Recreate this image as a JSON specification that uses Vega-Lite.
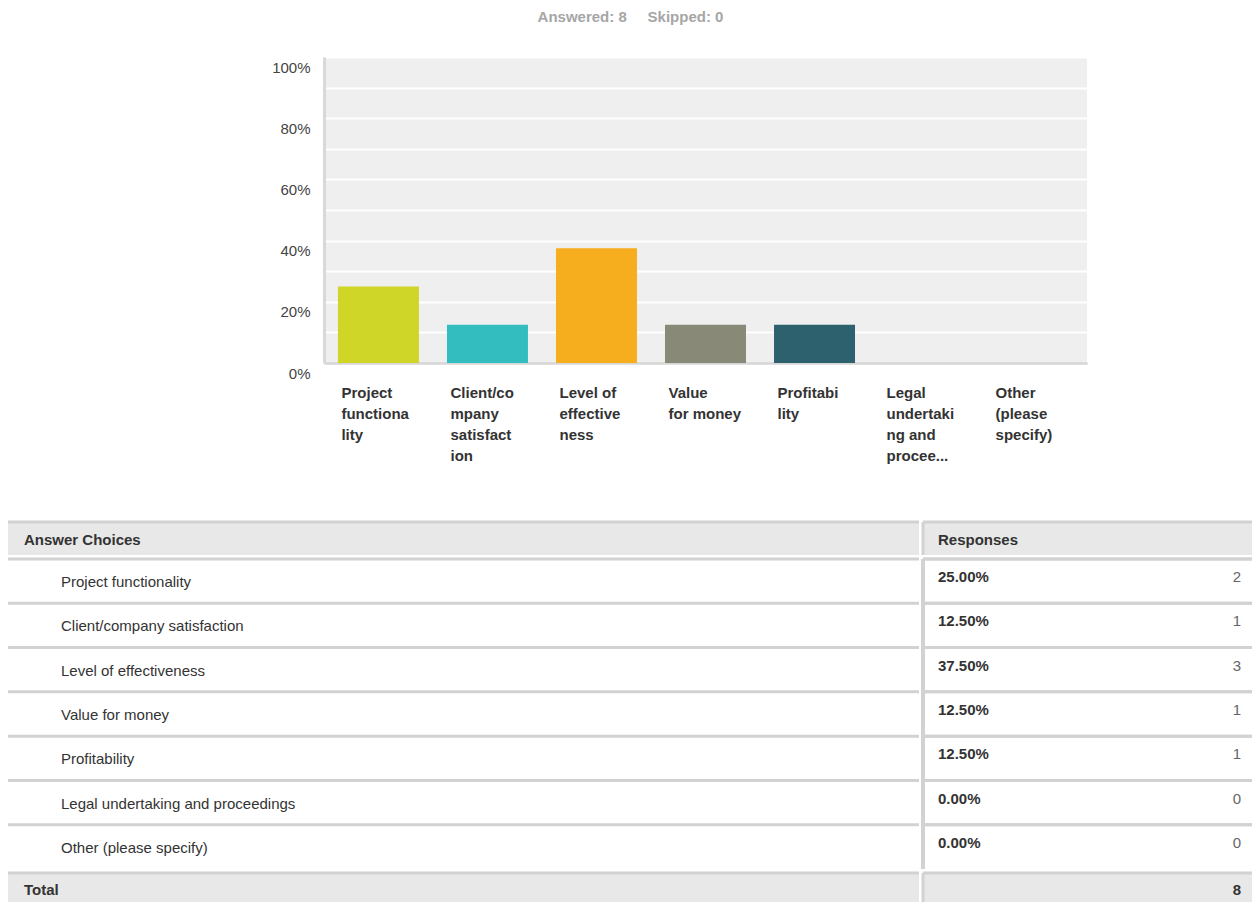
{
  "$schema": "https://vega.github.io/schema/vega-lite/v6.json",
  "padding": {"left": 6, "top": 10, "right": 0, "bottom": 0},
  "background": "white",
  "config": {"font": "Liberation Sans", "view": {"stroke": null}},
  "title": {"text": "Answered: 8\u00a0\u00a0\u00a0\u00a0\u00a0Skipped: 0", "anchor": "middle", "fontSize": 15, "fontWeight": "bold", "color": "#a6a6a6", "offset": 32},
  "datasets": {
    "choices": [
      {"choice": "Project functionality", "axis_label": "Project|functiona|lity", "pct": 0.25, "count": 2},
      {"choice": "Client/company satisfaction", "axis_label": "Client/co|mpany|satisfact|ion", "pct": 0.125, "count": 1},
      {"choice": "Level of effectiveness", "axis_label": "Level of|effective|ness", "pct": 0.375, "count": 3},
      {"choice": "Value for money", "axis_label": "Value|for money", "pct": 0.125, "count": 1},
      {"choice": "Profitability", "axis_label": "Profitabi|lity", "pct": 0.125, "count": 1},
      {"choice": "Legal undertaking and proceedings", "axis_label": "Legal|undertaki|ng and|procee...", "pct": 0, "count": 0},
      {"choice": "Other (please specify)", "axis_label": "Other|(please|specify)", "pct": 0, "count": 0}
    ],
    "header": [{"answers": "Answer Choices", "responses": "Responses"}],
    "total": [{"total_label": "Total", "total_count": 8}]
  },
  "spacing": 57,
  "vconcat": [
    {
      "spacing": 16,
      "hconcat": [
        {
          "width": 247,
          "height": 306,
          "data": {"values": []},
          "mark": {"type": "point"},
          "encoding": {}
        },
        {
          "width": 763,
          "height": 306,
          "view": {"fill": "#efefef", "stroke": null},
          "data": {"name": "choices"},
          "mark": {"type": "bar"},
          "encoding": {
            "x": {
              "field": "axis_label", "type": "nominal", "sort": null,
              "scale": {"paddingInner": 0.257, "paddingOuter": 0.128},
              "axis": {"title": null, "labelExpr": "split(datum.value, '|')", "labelAlign": "left", "labelBaseline": "top", "labelOffset": -37, "labelPadding": 22, "labelLineHeight": 21, "labelFontSize": 15, "labelFontWeight": "bold", "labelColor": "#333333", "labelAngle": 0, "labelLimit": 0, "ticks": false, "tickSize": 0, "domain": true, "domainColor": "#d6d6d6", "domainWidth": 2, "grid": false, "labelOverlap": false}
            },
            "y": {
              "field": "pct", "type": "quantitative",
              "scale": {"domain": [0, 1], "nice": false},
              "axis": {"title": null, "values": [0, 0.1, 0.2, 0.3, 0.4, 0.5, 0.6, 0.7, 0.8, 0.9, 1], "format": ".0%", "labelExpr": "round(datum.value*10) % 2 === 0 ? datum.label : ''", "labelFontSize": 15, "labelColor": "#444444", "labelPadding": 14, "labelOffset": 10, "labelOverlap": false, "ticks": false, "tickSize": 0, "domain": true, "domainColor": "#d9d9d9", "domainWidth": 3, "grid": true, "gridColor": {"condition": {"test": "datum.value === 0", "value": "#d6d6d6"}, "value": "#ffffff"}, "gridWidth": 2}
            },
            "color": {
              "field": "choice", "type": "nominal",
              "scale": {"domain": ["Project functionality", "Client/company satisfaction", "Level of effectiveness", "Value for money", "Profitability", "Legal undertaking and proceedings", "Other (please specify)"], "range": ["#cfd628", "#33bdbf", "#f6ae1e", "#888a77", "#2d616d", "#9c9c9c", "#6a6a6a"]},
              "legend": null
            }
          }
        }
      ]
    },
    {
      "spacing": 0,
      "vconcat": [
        {
          "spacing": 0,
          "hconcat": [
            {
              "width": 911, "height": 33,
              "view": {"fill": "#e8e8e8", "stroke": null},
              "data": {"name": "header"},
              "transform": [{"fold": ["answers"], "as": ["column", "cell"]}],
              "layer": [
                {"mark": {"type": "rule", "color": "#d2d2d2", "strokeWidth": 3},
                 "encoding": {"y": {"field": "column", "type": "nominal", "bandPosition": 0, "axis": null, "scale": {"type": "band", "paddingInner": 0, "paddingOuter": 0}}}},
                {"mark": {"type": "text", "align": "left", "baseline": "middle", "dx": 16, "dy": 1, "fontSize": 15, "fontWeight": "bold", "color": "#333333"},
                 "encoding": {
                   "x": {"field": "column", "type": "nominal", "bandPosition": 0, "axis": null, "scale": {"type": "band", "paddingInner": 0, "paddingOuter": 0}},
                   "y": {"field": "column", "type": "nominal", "axis": null, "scale": {"type": "band", "paddingInner": 0, "paddingOuter": 0}},
                   "text": {"field": "cell"}}}
              ]
            },
            {
              "width": 330, "height": 33,
              "view": {"fill": "#e8e8e8", "stroke": null},
              "data": {"name": "header"},
              "transform": [{"fold": ["responses"], "as": ["column", "cell"]}],
              "layer": [
                {"mark": {"type": "rule", "color": "#d2d2d2", "strokeWidth": 3},
                 "encoding": {"y": {"field": "column", "type": "nominal", "bandPosition": 0, "axis": null, "scale": {"type": "band", "paddingInner": 0, "paddingOuter": 0}}}},
                {"mark": {"type": "rule", "color": "#d2d2d2", "strokeWidth": 3},
                 "encoding": {"x": {"field": "column", "type": "nominal", "bandPosition": 0, "axis": null, "scale": {"type": "band", "paddingInner": 0, "paddingOuter": 0}}}},
                {"mark": {"type": "text", "align": "left", "baseline": "middle", "dx": 15, "dy": 1, "fontSize": 15, "fontWeight": "bold", "color": "#333333"},
                 "encoding": {
                   "x": {"field": "column", "type": "nominal", "bandPosition": 0, "axis": null, "scale": {"type": "band", "paddingInner": 0, "paddingOuter": 0}},
                   "y": {"field": "column", "type": "nominal", "axis": null, "scale": {"type": "band", "paddingInner": 0, "paddingOuter": 0}},
                   "text": {"field": "cell"}}}
              ]
            }
          ]
        },
        {
          "spacing": 0,
          "hconcat": [
            {
              "width": 911, "height": 310,
              "data": {"name": "choices"},
              "layer": [
                {"mark": {"type": "rule", "color": "#d2d2d2", "strokeWidth": 3},
                 "encoding": {"y": {"field": "choice", "type": "nominal", "sort": null, "bandPosition": 0, "axis": null, "scale": {"type": "band", "paddingInner": 0, "paddingOuter": 0}}}},
                {"transform": [{"fold": ["choice"], "as": ["column", "cell"]}],
                 "mark": {"type": "text", "align": "left", "baseline": "middle", "dx": 53, "dy": 1, "fontSize": 15, "color": "#333333"},
                 "encoding": {
                   "x": {"field": "column", "type": "nominal", "bandPosition": 0, "axis": null, "scale": {"type": "band", "paddingInner": 0, "paddingOuter": 0}},
                   "y": {"field": "choice", "type": "nominal", "sort": null, "axis": null, "scale": {"type": "band", "paddingInner": 0, "paddingOuter": 0}},
                   "text": {"field": "cell"}}}
              ]
            },
            {
              "width": 330, "height": 310,
              "data": {"name": "choices"},
              "transform": [{"fold": ["pct", "count"], "as": ["column", "cell"]}],
              "layer": [
                {"mark": {"type": "rule", "color": "#d2d2d2", "strokeWidth": 3},
                 "encoding": {"y": {"field": "choice", "type": "nominal", "sort": null, "bandPosition": 0, "axis": null, "scale": {"type": "band", "paddingInner": 0, "paddingOuter": 0}}}},
                {"transform": [{"filter": "datum.column === 'pct'"}],
                 "mark": {"type": "rule", "color": "#d2d2d2", "strokeWidth": 3},
                 "encoding": {"x": {"field": "column", "type": "nominal", "bandPosition": 0, "axis": null, "scale": {"type": "band", "domain": ["pct", "count"], "paddingInner": 0, "paddingOuter": 0}}}},
                {"transform": [{"filter": "datum.column === 'pct'"}],
                 "mark": {"type": "text", "align": "left", "baseline": "middle", "dx": 15, "dy": -4, "fontSize": 15, "fontWeight": "bold", "color": "#333333"},
                 "encoding": {
                   "x": {"field": "column", "type": "nominal", "bandPosition": 0, "axis": null, "scale": {"type": "band", "domain": ["pct", "count"], "paddingInner": 0, "paddingOuter": 0}},
                   "y": {"field": "choice", "type": "nominal", "sort": null, "axis": null, "scale": {"type": "band", "paddingInner": 0, "paddingOuter": 0}},
                   "text": {"field": "cell", "type": "quantitative", "format": ".2%"}}},
                {"transform": [{"filter": "datum.column === 'count'"}],
                 "mark": {"type": "text", "align": "right", "baseline": "middle", "dx": -12, "dy": -4, "fontSize": 15, "color": "#666666"},
                 "encoding": {
                   "x": {"field": "column", "type": "nominal", "bandPosition": 1, "axis": null, "scale": {"type": "band", "domain": ["pct", "count"], "paddingInner": 0, "paddingOuter": 0}},
                   "y": {"field": "choice", "type": "nominal", "sort": null, "axis": null, "scale": {"type": "band", "paddingInner": 0, "paddingOuter": 0}},
                   "text": {"field": "cell", "type": "quantitative", "format": "d"}}}
              ]
            }
          ]
        },
        {
          "spacing": 0,
          "hconcat": [
            {
              "width": 911, "height": 36,
              "view": {"fill": "#e8e8e8", "stroke": null},
              "data": {"name": "total"},
              "transform": [{"fold": ["total_label"], "as": ["column", "cell"]}],
              "layer": [
                {"mark": {"type": "rule", "color": "#d2d2d2", "strokeWidth": 3},
                 "encoding": {"y": {"field": "column", "type": "nominal", "bandPosition": 0, "axis": null, "scale": {"type": "band", "paddingInner": 0, "paddingOuter": 0}}}},
                {"mark": {"type": "text", "align": "left", "baseline": "middle", "dx": 16, "dy": -1, "fontSize": 15, "fontWeight": "bold", "color": "#333333"},
                 "encoding": {
                   "x": {"field": "column", "type": "nominal", "bandPosition": 0, "axis": null, "scale": {"type": "band", "paddingInner": 0, "paddingOuter": 0}},
                   "y": {"field": "column", "type": "nominal", "axis": null, "scale": {"type": "band", "paddingInner": 0, "paddingOuter": 0}},
                   "text": {"field": "cell"}}}
              ]
            },
            {
              "width": 330, "height": 36,
              "view": {"fill": "#e8e8e8", "stroke": null},
              "data": {"name": "total"},
              "transform": [{"fold": ["total_count"], "as": ["column", "cell"]}],
              "layer": [
                {"mark": {"type": "rule", "color": "#d2d2d2", "strokeWidth": 3},
                 "encoding": {"y": {"field": "column", "type": "nominal", "bandPosition": 0, "axis": null, "scale": {"type": "band", "paddingInner": 0, "paddingOuter": 0}}}},
                {"mark": {"type": "rule", "color": "#d2d2d2", "strokeWidth": 3},
                 "encoding": {"x": {"field": "column", "type": "nominal", "bandPosition": 0, "axis": null, "scale": {"type": "band", "paddingInner": 0, "paddingOuter": 0}}}},
                {"mark": {"type": "text", "align": "right", "baseline": "middle", "dx": -12, "dy": -1, "fontSize": 15, "fontWeight": "bold", "color": "#333333"},
                 "encoding": {
                   "x": {"field": "column", "type": "nominal", "bandPosition": 1, "axis": null, "scale": {"type": "band", "paddingInner": 0, "paddingOuter": 0}},
                   "y": {"field": "column", "type": "nominal", "axis": null, "scale": {"type": "band", "paddingInner": 0, "paddingOuter": 0}},
                   "text": {"field": "cell", "type": "quantitative", "format": "d"}}}
              ]
            }
          ]
        }
      ]
    }
  ]
}
